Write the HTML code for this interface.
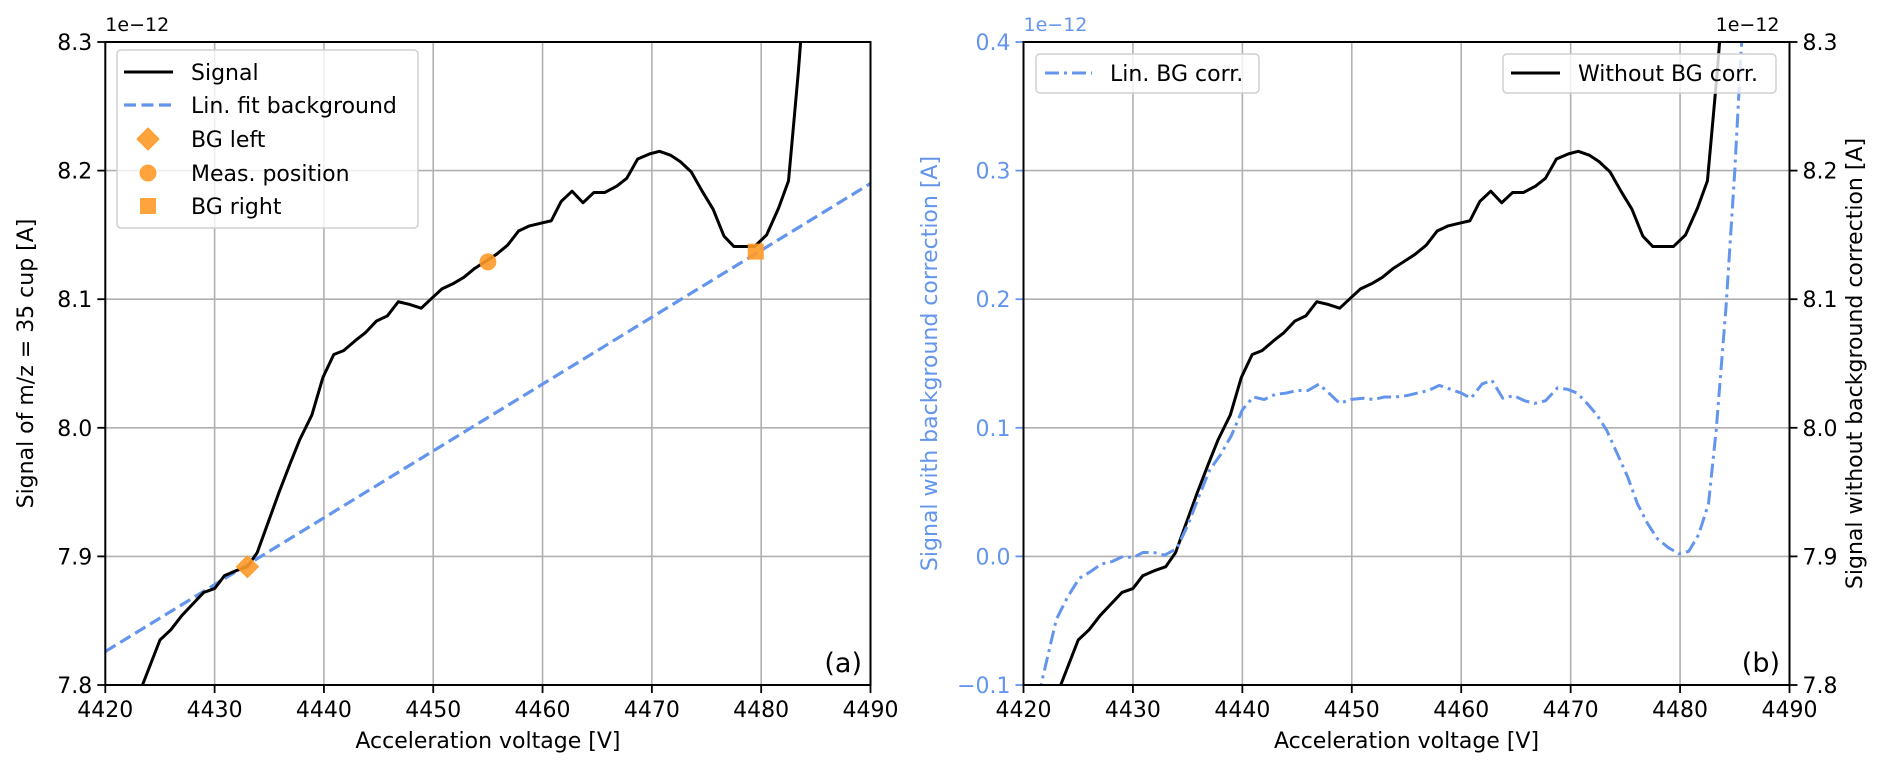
<!DOCTYPE html>
<html><head><meta charset="utf-8">
<style>
html,body{margin:0;padding:0;background:#fff;}
svg{display:block;font-family:"DejaVu Sans","Liberation Sans",sans-serif;}
</style></head>
<body>
<svg id="chart" width="1892" height="774" viewBox="0 0 1892 774" xmlns="http://www.w3.org/2000/svg"></svg>
<script>
// ---- data ----
const sigV = [4421.5,4422.5,4423.4,4425.0,4426.0,4427.0,4428.0,4429.0,4430.0,4430.9,4432.0,4433.0,4433.9,4434.75,4435.9,4436.9,4437.8,4438.9,4439.9,4440.9,4441.8,4442.9,4443.8,4444.8,4445.8,4446.8,4447.8,4448.9,4449.9,4450.8,4451.8,4452.8,4453.8,4454.9,4455.8,4456.8,4457.8,4458.8,4459.8,4460.8,4461.7,4462.7,4463.7,4464.7,4465.7,4466.8,4467.7,4468.7,4469.8,4470.7,4471.7,4472.6,4473.6,4474.6,4475.6,4476.6,4477.5,4479.4,4480.5,4481.6,4482.5,4483.0,4483.4,4483.7];
const sigA = [7.735,7.77,7.8,7.835,7.843,7.854,7.863,7.872,7.875,7.885,7.889,7.892,7.903,7.923,7.950,7.972,7.991,8.010,8.039,8.057,8.060,8.068,8.074,8.083,8.087,8.098,8.096,8.093,8.101,8.108,8.112,8.117,8.124,8.130,8.135,8.142,8.153,8.157,8.159,8.161,8.176,8.184,8.175,8.183,8.183,8.188,8.194,8.209,8.213,8.215,8.212,8.207,8.199,8.184,8.170,8.149,8.141,8.141,8.150,8.171,8.192,8.239,8.277,8.31];
const bgV = [4420, 4490];
const bgA = [7.826, 8.190];
const bgLeft = [4433.0, 7.892];
const measPos = [4455.0, 8.129];
const bgRight = [4479.5, 8.137];
const corrV = [4421.0,4421.6,4423.0,4424.0,4425.1,4426.1,4427.1,4428.1,4429.1,4430.0,4430.9,4431.9,4432.9,4434.0,4435.0,4436.0,4437.0,4438.0,4439.0,4440.0,4441.0,4442.0,4443.0,4444.0,4445.0,4446.0,4447.0,4447.9,4448.9,4449.9,4451.0,4452.0,4453.0,4454.0,4455.0,4456.0,4457.0,4458.0,4459.0,4460.0,4460.9,4461.9,4462.8,4463.8,4464.8,4465.8,4466.7,4467.7,4468.8,4469.7,4470.6,4471.5,4472.4,4473.3,4474.2,4475.2,4476.1,4477.0,4477.9,4478.9,4479.9,4480.8,4481.7,4482.6,4483.3,4484.2,4485.0,4485.6,4485.8];
const corrA = [-0.13,-0.1,-0.049,-0.032,-0.017,-0.012,-0.006,-0.004,0.0,-0.001,0.003,0.003,0.001,0.006,0.024,0.046,0.067,0.079,0.094,0.114,0.124,0.122,0.126,0.127,0.129,0.129,0.134,0.127,0.119,0.122,0.123,0.122,0.124,0.124,0.125,0.127,0.129,0.133,0.130,0.127,0.123,0.134,0.137,0.123,0.125,0.121,0.119,0.121,0.131,0.130,0.127,0.119,0.110,0.098,0.081,0.062,0.041,0.026,0.014,0.007,0.002,0.004,0.017,0.041,0.098,0.194,0.300,0.396,0.42];
const xTicks = [4420,4430,4440,4450,4460,4470,4480,4490];
const yTicksL = [7.8,7.9,8.0,8.1,8.2,8.3];
const yTicksCorr = [-0.1,0.0,0.1,0.2,0.3,0.4];

// ---- layout ----
const NS = "http://www.w3.org/2000/svg";
const svg = document.getElementById('chart');
const TOP = 42, BOT = 685;
const A = {x0:105.3, x1:870.5};
const B = {x0:1023.5, x1:1789.5};
const BLUE = "#6495ED", ORANGE = "#FF9A28", GRID = "#b0b0b0";
function mk(tag, attrs, parent){const e=document.createElementNS(NS,tag);for(const k in attrs)e.setAttribute(k,attrs[k]);(parent||svg).appendChild(e);return e;}
function xs(p){return v=>p.x0+(v-4420)/70*(p.x1-p.x0);}
function ysig(v){return BOT-(v-7.8)/0.5*(BOT-TOP);}
function ycorr(v){return BOT-(v+0.1)/0.5*(BOT-TOP);}

const defs = mk('defs',{});
const cpA = mk('clipPath',{id:'clipA'},defs); mk('rect',{x:A.x0,y:TOP,width:A.x1-A.x0,height:BOT-TOP},cpA);
const cpB = mk('clipPath',{id:'clipB'},defs); mk('rect',{x:B.x0,y:TOP,width:B.x1-B.x0,height:BOT-TOP},cpB);

function text(str, x, y, attrs, parent){const t=mk('text',Object.assign({x:x,y:y,'font-size':22,fill:'#000'},attrs||{}),parent);t.textContent=str;return t;}

function panel(p, gname){
  const g = mk('g',{});
  
  
  const X = xs(p);
  const grid = mk('g',{},g);
  
  
  xTicks.forEach(v=>{mk('line',{x1:X(v),x2:X(v),y1:TOP,y2:BOT,stroke:GRID,'stroke-width':1.6},grid);});
  yTicksL.forEach(v=>{mk('line',{x1:p.x0,x2:p.x1,y1:ysig(v),y2:ysig(v),stroke:GRID,'stroke-width':1.6},grid);});
  const xt = mk('g',{},g);
  
  
  xTicks.forEach(v=>{
    mk('line',{x1:X(v),x2:X(v),y1:BOT,y2:BOT+8,stroke:'#000','stroke-width':1.8},xt);
    const t=text(String(v),X(v),BOT+32,{'text-anchor':'middle'},xt);
    
    
  });
  const xl=text('Acceleration voltage [V]',(p.x0+p.x1)/2,BOT+63,{'text-anchor':'middle'},g);
  
  
  return {g:g,X:X};
}
function polyline(parent, V, Y, X, attrs, name, clip){
  let d=''; V.forEach((v,i)=>{d+=(i?'L':'M')+X(v).toFixed(2)+','+Y[i].toFixed(2);});
  const pth = mk('path',Object.assign({d:d,fill:'none','stroke-linejoin':'round','clip-path':'url(#'+clip+')'},attrs),parent);
  
  
  return pth;
}

// ---- Panel (a) ----
const pa = panel(A,'panel-a');
yTicksL.forEach(v=>{
  mk('line',{x1:A.x0-8,x2:A.x0,y1:ysig(v),y2:ysig(v),stroke:'#000','stroke-width':1.8},pa.g);
  const t=text(v.toFixed(1),A.x0-13,ysig(v)+8,{'text-anchor':'end'},pa.g);
  
  
});
const oa=text('1e\u221212',A.x0,31,{'font-size':19},pa.g);


const yla=text('Signal of m/z = 35 cup [A]',0,0,{'text-anchor':'middle',transform:'translate(33,'+((TOP+BOT)/2)+') rotate(-90)'},pa.g);


polyline(pa.g,bgV,bgA.map(ysig),pa.X,{stroke:BLUE,'stroke-width':3.2,'stroke-dasharray':'12,5.5'},'bg-fit-line','clipA');
polyline(pa.g,sigV,sigA.map(ysig),pa.X,{stroke:'#000','stroke-width':3},'signal-line','clipA');
function diamond(cx,cy,r,parent){return mk('path',{d:`M${cx},${cy-r}L${cx+r},${cy}L${cx},${cy+r}L${cx-r},${cy}Z`,fill:ORANGE,'fill-opacity':0.9,stroke:ORANGE},parent);}
const mk1=diamond(pa.X(bgLeft[0]),ysig(bgLeft[1]),11,pa.g);


const mk2=mk('circle',{cx:pa.X(measPos[0]),cy:ysig(measPos[1]),r:8.5,fill:ORANGE,'fill-opacity':0.9},pa.g);


const mk3=mk('rect',{x:pa.X(bgRight[0])-8,y:ysig(bgRight[1])-8,width:16,height:16,fill:ORANGE,'fill-opacity':0.9},pa.g);


mk('rect',{x:A.x0,y:TOP,width:A.x1-A.x0,height:BOT-TOP,fill:'none',stroke:'#000','stroke-width':2},pa.g);
const la=text('(a)',862,672,{'font-size':27,'text-anchor':'end'},pa.g);



const lga = mk('g',{},pa.g);


mk('rect',{x:117,y:50,width:301,height:178,rx:4,fill:'#fff','fill-opacity':0.8,stroke:'#d0d0d0','stroke-width':1.5},lga);
const ly=[72,105,139,173,206];
mk('line',{x1:124,x2:173,y1:ly[0],y2:ly[0],stroke:'#000','stroke-width':3},lga);
mk('line',{x1:124,x2:173,y1:ly[1],y2:ly[1],stroke:BLUE,'stroke-width':3.2,'stroke-dasharray':'12,5.5'},lga);
diamond(148,ly[2],11,lga);
mk('circle',{cx:148,cy:ly[3],r:8.5,fill:ORANGE,'fill-opacity':0.9},lga);
mk('rect',{x:140,y:ly[4]-8,width:16,height:16,fill:ORANGE,'fill-opacity':0.9},lga);
['Signal','Lin. fit background','BG left','Meas. position','BG right'].forEach((s,i)=>{
  const t=text(s,191,ly[i]+8,{},lga);
  
  
});

// ---- Panel (b) ----
const pb = panel(B,'panel-b');
yTicksCorr.forEach(v=>{
  mk('line',{x1:B.x0-8,x2:B.x0,y1:ycorr(v),y2:ycorr(v),stroke:BLUE,'stroke-width':1.8},pb.g);
  const t=text(v<0?'\u2212'+Math.abs(v).toFixed(1):v.toFixed(1),B.x0-13,ycorr(v)+8,{'text-anchor':'end',fill:BLUE},pb.g);
  
  
});
yTicksL.forEach(v=>{
  mk('line',{x1:B.x1,x2:B.x1+8,y1:ysig(v),y2:ysig(v),stroke:'#000','stroke-width':1.8},pb.g);
  const t=text(v.toFixed(1),B.x1+13,ysig(v)+8,{},pb.g);
  
  
});
const ob1=text('1e\u221212',B.x0,31,{'font-size':19,fill:BLUE},pb.g);


const ob2=text('1e\u221212',B.x1-10,31,{'font-size':19,'text-anchor':'end'},pb.g);


const ylb1=text('Signal with background correction [A]',0,0,{'text-anchor':'middle',fill:BLUE,transform:'translate(937,'+((TOP+BOT)/2)+') rotate(-90)'},pb.g);


const ylb2=text('Signal without background correction [A]',0,0,{'text-anchor':'middle',transform:'translate(1862,'+((TOP+BOT)/2)+') rotate(-90)'},pb.g);


polyline(pb.g,sigV,sigA.map(ysig),pb.X,{stroke:'#000','stroke-width':3},'signal-uncorrected-line','clipB');
polyline(pb.g,corrV,corrA.map(ycorr),pb.X,{stroke:BLUE,'stroke-width':3,'stroke-dasharray':'14,5,3,5'},'signal-corrected-line','clipB');
mk('rect',{x:B.x0,y:TOP,width:B.x1-B.x0,height:BOT-TOP,fill:'none',stroke:'#000','stroke-width':2},pb.g);
const lb=text('(b)',1780,672,{'font-size':27,'text-anchor':'end'},pb.g);



const lgb1 = mk('g',{},pb.g);


mk('rect',{x:1036,y:54,width:223,height:39,rx:4,fill:'#fff','fill-opacity':0.8,stroke:'#d0d0d0','stroke-width':1.5},lgb1);
mk('line',{x1:1045,x2:1092,y1:73,y2:73,stroke:BLUE,'stroke-width':3,'stroke-dasharray':'14,5,3,5'},lgb1);
text('Lin. BG corr.',1110,81,{},lgb1);
const lgb2 = mk('g',{},pb.g);


mk('rect',{x:1503,y:54,width:273,height:39,rx:4,fill:'#fff','fill-opacity':0.8,stroke:'#d0d0d0','stroke-width':1.5},lgb2);
mk('line',{x1:1511,x2:1560,y1:73,y2:73,stroke:'#000','stroke-width':3},lgb2);
text('Without BG corr.',1578,81,{},lgb2);
</script>
</body></html>
